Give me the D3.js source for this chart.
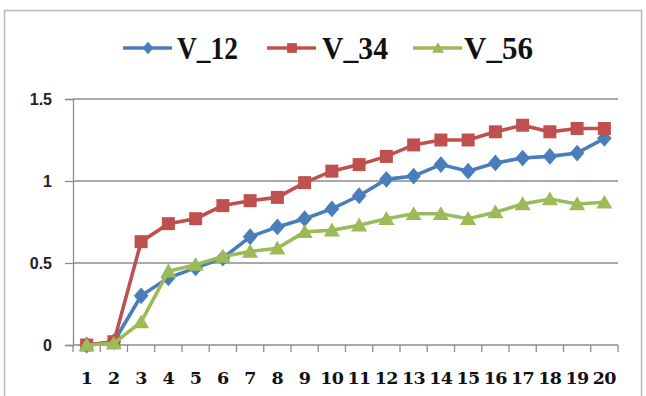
<!DOCTYPE html>
<html>
<head>
<meta charset="utf-8">
<script src="https://cdn.jsdelivr.net/npm/d3@7"></script>
<style>
  body { margin: 0; background: #fff; }
</style>
</head>
<body>
<div id="chart"></div>
<script>
// Chart data
const categories = d3.range(1, 21).map(String);
const v12 = [0, 0.02, 0.30, 0.41, 0.47, 0.53, 0.66, 0.72, 0.77, 0.83, 0.91, 1.01, 1.03, 1.10, 1.06, 1.11, 1.14, 1.15, 1.17, 1.26];
const v34 = [0, 0.02, 0.63, 0.74, 0.77, 0.85, 0.88, 0.90, 0.99, 1.06, 1.10, 1.15, 1.22, 1.25, 1.25, 1.30, 1.34, 1.30, 1.32, 1.32];
const v56 = [0, 0.01, 0.14, 0.45, 0.49, 0.54, 0.57, 0.59, 0.69, 0.70, 0.73, 0.77, 0.80, 0.80, 0.77, 0.81, 0.86, 0.89, 0.86, 0.87];
const yTicks = [0, 0.5, 1, 1.5];
const seriesNames = ["V_12", "V_34", "V_56"];

const series = [
    { name: seriesNames[0], values: v12, color: "#4a7ebb", marker: "diamond" },
    { name: seriesNames[1], values: v34, color: "#c0504d", marker: "square" },
    { name: seriesNames[2], values: v56, color: "#9bbb59", marker: "triangle" }
];

const width = 646;
const height = 396;

const svg = d3.select("#chart")
    .append("svg")
    .attr("width", width)
    .attr("height", height);

// Outer chart border
svg.append("rect")
    .attr("x", 4.5)
    .attr("y", 10.5)
    .attr("width", 637)
    .attr("height", 400)
    .attr("fill", "#fff")
    .attr("stroke", "#b8b8b8")
    .attr("stroke-width", 1.5);

const x = d3.scaleBand()
    .domain(categories)
    .range([73, 618]);

const y = d3.scaleLinear()
    .domain([0, 1.5])
    .range([345, 99]);

// Horizontal gridlines
svg.append("g")
    .selectAll("line")
    .data(yTicks.filter(d => d > 0))
    .enter()
    .append("line")
    .attr("x1", 73)
    .attr("x2", 618)
    .attr("y1", d => y(d))
    .attr("y2", d => y(d))
    .attr("stroke", "#8c8c8c")
    .attr("stroke-width", 1.3);

// Y axis
const yAxis = svg.append("g")
    .attr("transform", "translate(73,0)")
    .call(d3.axisLeft(y).tickValues(yTicks).tickSize(8).tickPadding(13).tickFormat(d3.format("")));
yAxis.select(".domain").attr("stroke", "#8c8c8c").attr("stroke-width", 1.3);
yAxis.selectAll(".tick line").attr("stroke", "#8c8c8c").attr("stroke-width", 1.3);
yAxis.selectAll("text")
    .style("font-family", "'Liberation Sans', Arial, sans-serif")
    .style("font-size", "16px")
    .style("font-weight", "bold")
    .attr("fill", "#222");

// X axis with ticks between categories
const xAxisG = svg.append("g")
    .attr("transform", `translate(0,${y(0)})`);
xAxisG.append("line")
    .attr("x1", 73).attr("x2", 618)
    .attr("stroke", "#8c8c8c").attr("stroke-width", 1.3);
xAxisG.selectAll(".xtick")
    .data(categories.concat(["end"]))
    .enter()
    .append("line")
    .attr("x1", (d, i) => i < categories.length ? x(d) : x.range()[1])
    .attr("x2", (d, i) => i < categories.length ? x(d) : x.range()[1])
    .attr("y1", 0)
    .attr("y2", 7)
    .attr("stroke", "#8c8c8c")
    .attr("stroke-width", 1.3);
xAxisG.selectAll(".xlabel")
    .data(categories)
    .enter()
    .append("text")
    .attr("x", d => x(d) + x.bandwidth() / 2)
    .attr("y", 39)
    .attr("text-anchor", "middle")
    .style("font-family", "'DejaVu Serif', serif")
    .style("font-size", "17.5px")
    .style("font-weight", "bold")
    .style("letter-spacing", "-0.5px")
    .attr("fill", "#111")
    .text(d => d);

// Marker shapes
function markerPath(type, s) {
    if (type === "diamond") return `M0,${-s * 1.15}L${s},0L0,${s * 1.15}L${-s},0Z`;
    if (type === "square") return `M${-s},${-s}H${s}V${s}H${-s}Z`;
    return `M0,${-s * 1.05}L${s * 1.1},${s * 0.85}L${-s * 1.1},${s * 0.85}Z`;
}
const markerSize = { diamond: 7.3, square: 6.5, triangle: 7.3 };

const line = d3.line()
    .x((d, i) => x(categories[i]) + x.bandwidth() / 2)
    .y(d => y(d));

series.forEach(s => {
    const g = svg.append("g");
    g.append("path")
        .datum(s.values)
        .attr("d", line)
        .attr("fill", "none")
        .attr("stroke", s.color)
        .attr("stroke-width", 3.6);
    g.selectAll("path.mark")
        .data(s.values)
        .enter()
        .append("path")
        .attr("class", "mark")
        .attr("transform", (d, i) => `translate(${x(categories[i]) + x.bandwidth() / 2},${y(d)})`)
        .attr("d", markerPath(s.marker, markerSize[s.marker]))
        .attr("fill", s.color);
});

// Legend
const legendItems = [
    { lx: 123, tx: 177, tw: 61 },
    { lx: 267, tx: 322, tw: 66 },
    { lx: 413, tx: 464, tw: 69 }
];
series.forEach((s, i) => {
    const li = legendItems[i];
    const g = svg.append("g").attr("transform", `translate(0,48)`);
    g.append("line")
        .attr("x1", li.lx).attr("x2", li.lx + 49)
        .attr("stroke", s.color).attr("stroke-width", 3.4);
    g.append("path")
        .attr("transform", `translate(${li.lx + 25},0)`)
        .attr("d", markerPath(s.marker, markerSize[s.marker] * 0.75))
        .attr("fill", s.color);
    g.append("text")
        .attr("x", li.tx)
        .attr("y", 10.5)
        .attr("textLength", li.tw)
        .attr("lengthAdjust", "spacingAndGlyphs")
        .style("font-family", "'Liberation Serif', serif")
        .style("font-size", "31px")
        .style("font-weight", "bold")
        .attr("fill", "#111")
        .text(s.name);
});
</script>
</body>
</html>
